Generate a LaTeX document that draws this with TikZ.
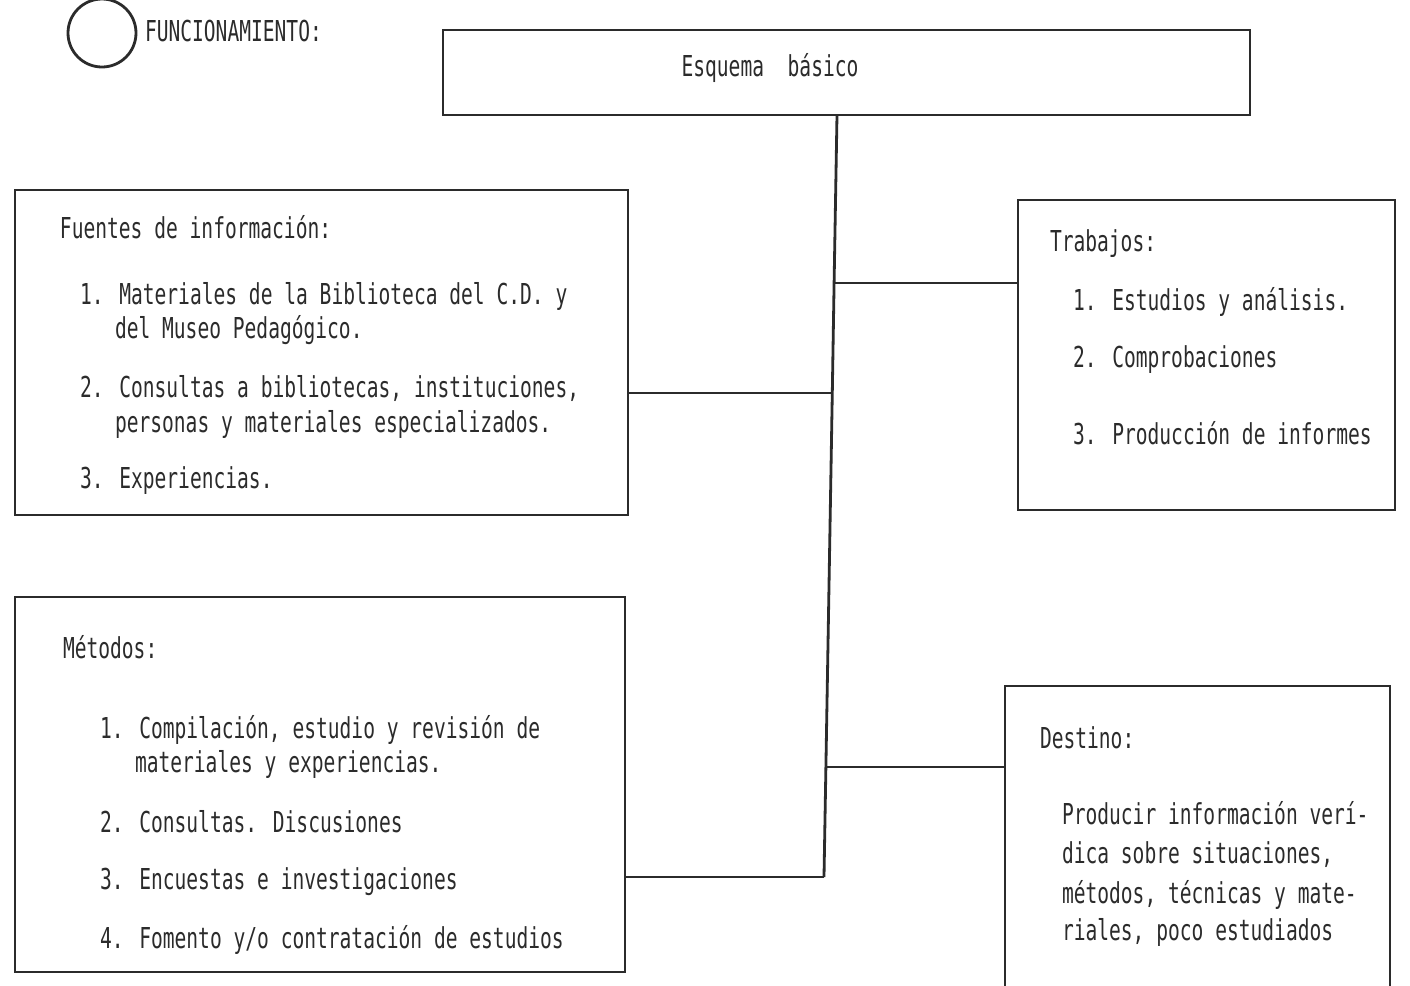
\documentclass[tikz,border=0pt]{standalone}
\usepackage{fontspec}
\newfontfamily\tw[FakeStretch=0.68]{DejaVu Sans Mono}
\definecolor{inkc}{HTML}{2B2B2B}
\begin{document}
\begin{tikzpicture}[x=0.5pt,y=-0.5pt,
  ink/.style={draw=inkc, line width=1.4pt},
  box/.style={ink, rectangle, inner sep=0pt, outer sep=0pt},
  txt/.style={anchor=base west, inner sep=0pt, outer sep=0pt, text=inkc, font=\tw\fontsize{14.4pt}{16pt}\selectfont},
  link/.style={ink}]
\useasboundingbox (0,0) rectangle (1410,986);
\clip (0,0) rectangle (1410,986);
\fill[white] (0,0) rectangle (1410,986);

% header
\node[box, circle, minimum size=34pt] (circ) at (102,33) {};
\node[txt] (func) at (145,41) {FUNCIONAMIENTO:};
\node[box, minimum width=403.5pt, minimum height=42.5pt] (esq) at (846.5,72.5) {};
\node[txt, anchor=base] (esqt) at (770,76) {Esquema\ \ básico};

% boxes
\node[box, minimum width=306.5pt, minimum height=162.5pt] (fue) at (321.5,352.5) {};
\node[box, minimum width=188.5pt, minimum height=155pt] (tra) at (1206.5,355) {};
\node[box, minimum width=305pt, minimum height=187.5pt] (met) at (320,784.5) {};
\node[box, minimum width=192.5pt, minimum height=157pt] (des) at (1197.5,843) {};

% connectors
\coordinate (t0) at (837,115);
\coordinate (j1) at (834.1,283);
\coordinate (j2) at (832.3,393);
\coordinate (j3) at (825.9,767);
\coordinate (j4) at (824,877);
\draw[link] (t0) -- (j1) -- (j2) -- (j3) -- (j4);
\draw[link] (j1) -- (j1 -| tra.west);
\draw[link] (j2) -- (j2 -| fue.east);
\draw[link] (j3) -- (j3 -| des.west);
\draw[link] (j4) -- (j4 -| met.east);

% Fuentes
\node[txt] (f0) at (60,238) {Fuentes de información:};
\node[txt] (f1) at (80,304) {1. Materiales de la Biblioteca del C.D. y};
\node[txt] (f1b) at (115,338) {del Museo Pedagógico.};
\node[txt] (f2) at (80,397) {2. Consultas a bibliotecas, instituciones,};
\node[txt] (f2b) at (115,432) {personas y materiales especializados.};
\node[txt] (f3) at (80,488) {3. Experiencias.};

% Trabajos
\node[txt] (r0) at (1050,251) {Trabajos:};
\node[txt] (r1) at (1073,310) {1. Estudios y análisis.};
\node[txt] (r2) at (1073,367) {2. Comprobaciones};
\node[txt] (r3) at (1073,444) {3. Producción de informes};

% Metodos
\node[txt] (m0) at (63,658) {Métodos:};
\node[txt] (m1) at (100,738) {1. Compilación, estudio y revisión de};
\node[txt] (m1b) at (135,772) {materiales y experiencias.};
\node[txt] (m2) at (100,832) {2. Consultas. Discusiones};
\node[txt] (m3) at (100,889) {3. Encuestas e investigaciones};
\node[txt] (m4) at (100,948) {4. Fomento y/o contratación de estudios};

% Destino
\node[txt] (d0) at (1040,748) {Destino:};
\node[txt] (d1) at (1062,824) {Producir información verí-};
\node[txt] (d2) at (1062,863) {dica sobre situaciones,};
\node[txt] (d3) at (1062,903) {métodos, técnicas y mate-};
\node[txt] (d4) at (1062,940) {riales, poco estudiados};
\end{tikzpicture}
\end{document}
